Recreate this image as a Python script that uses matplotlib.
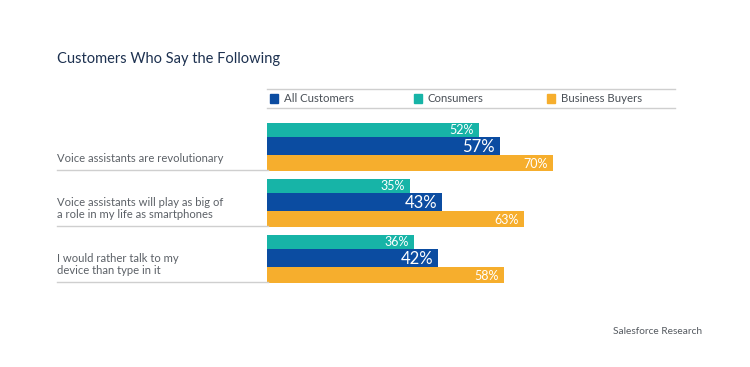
import numpy as np
import matplotlib
matplotlib.use("Agg")
import matplotlib.pyplot as plt

plt.rcParams['font.family'] = ['Lato', 'DejaVu Sans']

# data
statements = ["Voice assistants are revolutionary",
              "Voice assistants will play as big of\na role in my life as smartphones",
              "I would rather talk to my\ndevice than type in it"]
series = ["Consumers", "All Customers", "Business Buyers"]
consumers = [52, 35, 36]
all_customers = [57, 43, 42]
business_buyers = [70, 63, 58]
legend_order = ["All Customers", "Consumers", "Business Buyers"]

colors = {"All Customers": "#0b4ca1", "Consumers": "#17b4a7", "Business Buyers": "#f6ae2d"}
values = {"Consumers": consumers, "All Customers": all_customers, "Business Buyers": business_buyers}

W, H = 750, 367
fig = plt.figure(figsize=(7.5, 3.67), dpi=100)
fig.patch.set_facecolor("white")

def fx(px):
    return px / W

def fy(py):
    return 1 - py / H

# bar axes: x 0..100 maps to pixels 267..675, y in pixel units (inverted)
y_top, y_bot = 85, 295
ax = fig.add_axes([fx(267), fy(y_bot), fx(675) - fx(267), (y_bot - y_top) / H])
ax.set_xlim(0, 100)
ax.set_ylim(y_bot, y_top)
ax.axis("off")

group_top = 123
group_step = 56
heights = {"Consumers": 14, "All Customers": 18, "Business Buyers": 16}
lab_size = {"Consumers": 9, "All Customers": 12, "Business Buyers": 9}

for i, stmt in enumerate(statements):
    top = group_top + i * group_step
    y0 = top
    for s in series:
        h = heights[s]
        v = values[s][i]
        ax.barh(y0 + h / 2, v, height=h, left=0, color=colors[s], edgecolor="none")
        ax.text(v - 1.3, y0 + h / 2 + 0.5, f"{v}%", color="white", fontsize=lab_size[s],
                ha="right", va="center")
        y0 += h
    sep = top + 47
    fig.add_artist(plt.Line2D([fx(57), fx(268)], [fy(sep), fy(sep)], color="#cfcfcf", lw=1))
    fig.text(fx(57), fy(sep - 6), stmt, fontsize=8.1, color="#5c6167", ha="left", va="bottom",
             linespacing=1.1)

# title
fig.text(fx(57), fy(59), "Customers Who Say the Following", fontsize=10.5, color="#1d3150",
         ha="left", va="center")

# legend
for py in (89, 108):
    fig.add_artist(plt.Line2D([fx(267), fx(675)], [fy(py), fy(py)], color="#cfcfcf", lw=1))
leg_x = [270, 414, 547]
for name, lx in zip(legend_order, leg_x):
    fig.add_artist(plt.Rectangle((fx(lx), fy(103)), fx(8), 9 / H, color=colors[name],
                                 transform=fig.transFigure))
    fig.text(fx(lx + 14), fy(98.5), name, fontsize=8.2, color="#4a5057", ha="left", va="center")

fig.text(fx(702), fy(332), "Salesforce Research", fontsize=7.3, color="#555a60",
         ha="right", va="center")

fig.savefig("out.png", dpi=100)
